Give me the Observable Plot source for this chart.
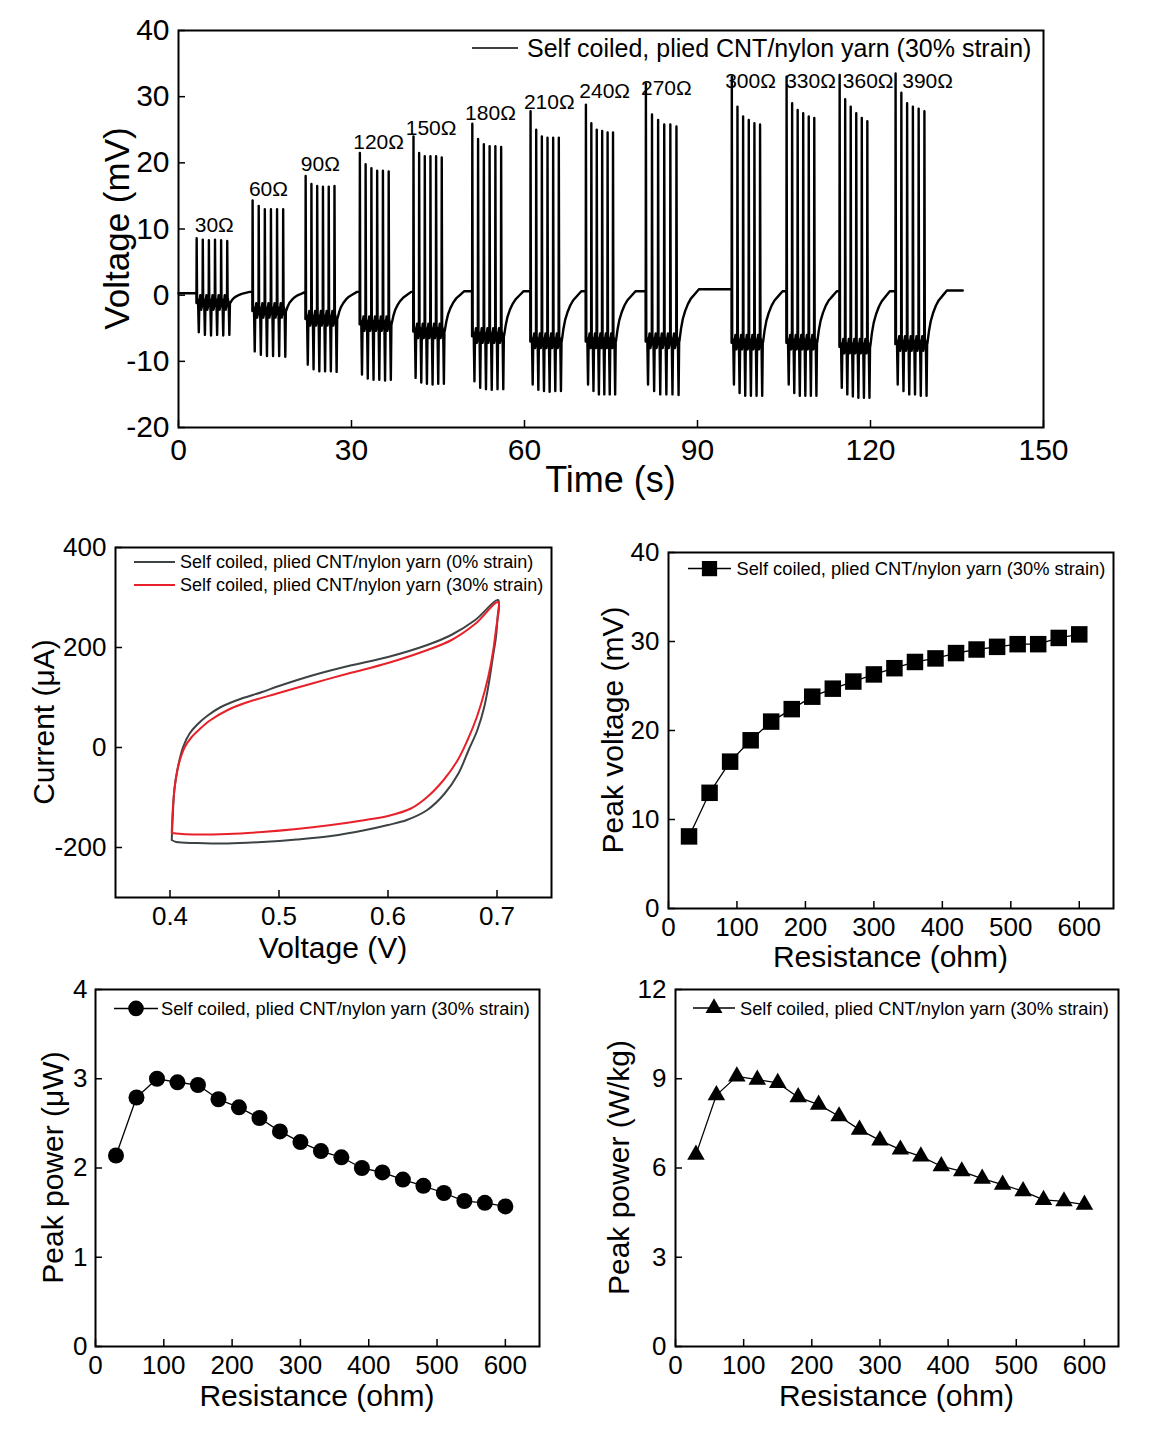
<!DOCTYPE html>
<html><head><meta charset="utf-8">
<script src="https://cdn.jsdelivr.net/npm/d3@7"></script>
<script src="https://cdn.jsdelivr.net/npm/@observablehq/plot@0.6"></script>
<style>
body{margin:0;background:#fff;}
#page{position:relative;width:1152px;height:1440px;background:#fff;overflow:hidden;}
#page svg{position:absolute;overflow:visible;}
</style></head><body><div id="page"></div>
<script>
// ---------- Panel A: voltage vs time ----------
const burstLabels = ["30Ω","60Ω","90Ω","120Ω","150Ω","180Ω","210Ω","240Ω","270Ω","300Ω","330Ω","360Ω","390Ω"];
const burstStart = [3.1, 12.8, 22.0, 31.4, 40.7, 50.9, 61.0, 70.6, 81.0, 95.9, 105.4, 114.6, 124.3];
const burstEnd   = [8.9, 18.6, 27.5, 36.9, 46.1, 56.4, 66.4, 75.8, 86.8, 101.3, 110.7, 119.9, 129.8];
const baselineBefore = [0.3, 0.5, 0.5, 0.5, 0.5, 0.6, 0.6, 0.6, 0.6, 0.9, 0.6, 0.6, 0.6];
const finalBaseline = 0.7;
const traceEnd = 136;
const burstOffset = [-1.2, -2.4, -3.6, -4.4, -5.5, -6.2, -7.0, -7.0, -7.0, -7.2, -7.2, -7.8, -7.4];
const burstPeaks = [
  [8.6, 8.4, 8.3, 8.4, 8.3, 8.2],
  [14.3, 13.5, 13.0, 13.0, 13.0, 13.0],
  [18.0, 16.8, 16.5, 16.4, 16.4, 16.5],
  [21.5, 19.8, 19.2, 18.8, 18.8, 18.7],
  [24.0, 21.5, 21.0, 21.0, 21.0, 20.8],
  [25.9, 23.6, 22.8, 22.5, 22.5, 22.4],
  [27.8, 25.0, 24.0, 23.8, 23.8, 23.8],
  [28.8, 26.0, 25.0, 24.8, 24.6, 24.6],
  [32.0, 27.3, 26.5, 25.8, 25.8, 25.5],
  [33.0, 28.5, 27.0, 26.5, 26.0, 25.8],
  [33.0, 29.0, 28.0, 27.5, 27.0, 26.8],
  [33.3, 29.6, 28.5, 27.5, 26.8, 26.3],
  [33.5, 30.6, 29.0, 28.5, 28.2, 27.8]
];
const burstTroughs = [
  [-5.6, -6.0, -6.1, -6.0, -6.1, -6.0],
  [-8.5, -9.0, -9.2, -9.2, -9.2, -9.3],
  [-10.5, -11.2, -11.5, -11.5, -11.5, -11.6],
  [-12.0, -12.6, -12.8, -12.8, -12.9, -12.8],
  [-12.5, -13.2, -13.4, -13.5, -13.4, -13.4],
  [-13.0, -14.0, -14.2, -14.3, -14.2, -14.2],
  [-13.5, -14.3, -14.5, -14.6, -14.5, -14.5],
  [-13.5, -14.5, -15.0, -15.0, -15.0, -15.0],
  [-13.5, -14.5, -15.0, -15.0, -15.0, -15.1],
  [-13.5, -14.8, -15.2, -15.2, -15.2, -15.2],
  [-13.5, -14.8, -15.2, -15.2, -15.2, -15.2],
  [-14.0, -15.0, -15.3, -15.5, -15.5, -15.5],
  [-13.5, -14.5, -15.0, -15.0, -15.2, -15.2]
];
const rippleUp = 1.2, rippleDown = -1.0;
// recovery after each burst, read from the 240 Ω tail (fraction of offset remaining)
const recoveryDt   = [0, 0.3, 0.6, 1.0, 1.5, 2.0, 2.7, 3.4];
const recoveryFrac = [1, 0.75, 0.57, 0.42, 0.28, 0.18, 0.09, 0];
// burst label anchors (time s, voltage mV)
const labelT = [6.2, 15.6, 24.6, 34.7, 43.8, 54.1, 64.3, 73.9, 84.6, 99.2, 109.6, 119.6, 129.9];
const labelV = [10.6, 16.0, 19.8, 23.1, 25.2, 27.5, 29.2, 30.8, 31.3, 32.3, 32.3, 32.3, 32.3];

const timeTicks = [0, 30, 60, 90, 120, 150];
const voltTicks = [-20, -10, 0, 10, 20, 30, 40];

// ---------- Panel B: CV ----------
const cvV0 = [0.4016,0.4025,0.404,0.407,0.412,0.418,0.4246,0.434,0.4467,0.4657,0.4846,0.5,0.532,0.5636,0.6,0.636,0.658,0.680,0.701,
              0.7005,0.699,0.6962,0.693,0.6883,0.682,0.674,0.6646,0.652,0.636,0.6172,0.6,0.5794,0.5478,0.5162,0.4846,0.453,0.4246,0.4057,0.4016];
const cvI0 = [-185,-139,-85,-42,1,28,45,63,81,98,111,123,145,163,181,205,225,255,295,
              260,220,181,135,81,35,-5,-52,-92,-125,-145,-155,-165,-177,-184,-189,-192,-191,-189,-185];
const cvV30 = [0.4016,0.4025,0.4047,0.4082,0.4136,0.4199,0.4278,0.4373,0.453,0.4688,0.4998,0.532,0.5636,0.6,0.6362,0.6583,0.6804,0.7009,
               0.699,0.6945,0.689,0.6815,0.673,0.664,0.651,0.636,0.621,0.6,0.5794,0.5478,0.5162,0.4846,0.453,0.4215,0.4057,0.4016];
const cvI30 = [-171,-125,-72,-32,1,21,38,55,75,89,109,129,148,169,195,215,248,291,
               235,168,115,61,15,-25,-65,-99,-122,-137,-145,-155,-163,-169,-173,-174,-172,-171];
const cvXTicks = [0.4, 0.5, 0.6, 0.7];
const cvYTicks = [-200, 0, 200, 400];

// ---------- Panels C, D, E ----------
const resistance = [30,60,90,120,150,180,210,240,270,300,330,360,390,420,450,480,510,540,570,600];
const peakVoltage = [8.1,13.0,16.5,18.9,21.0,22.4,23.8,24.7,25.5,26.3,27.0,27.7,28.1,28.7,29.1,29.4,29.7,29.7,30.4,30.8];
const peakPowerUW = [2.14,2.79,3.00,2.96,2.93,2.77,2.68,2.56,2.41,2.29,2.19,2.12,2.00,1.95,1.87,1.80,1.72,1.63,1.61,1.57];
const peakPowerWkg = [6.45,8.45,9.08,8.97,8.86,8.38,8.13,7.74,7.29,6.93,6.62,6.39,6.06,5.89,5.64,5.44,5.22,4.93,4.88,4.77];
const resTicks = [0,100,200,300,400,500,600];
const pvTicks = [0,10,20,30,40];
const puwTicks = [0,1,2,3,4];
const pwkgTicks = [0,3,6,9,12];

const legendText = "Self coiled, plied CNT/nylon yarn (30% strain)";
const legendText0 = "Self coiled, plied CNT/nylon yarn (0% strain)";

// ---------- helpers ----------
const FONT = '"Liberation Sans", Arial, Helvetica, sans-serif';
const page = document.getElementById("page");

function panel({left, top, width, height, mt, mr, mb, ml, xDomain, yDomain, xTicks, yTicks, marks, tickFont, xPad, yPad}) {
  const pw = width - ml - mr, ph = height - mt - mb;
  const svg = Plot.plot({
    width, height, marginTop: mt, marginRight: mr, marginBottom: mb, marginLeft: ml,
    x: {domain: xDomain}, y: {domain: yDomain},
    style: {fontFamily: FONT, fontSize: tickFont + "px", background: "transparent", color: "black", overflow: "visible"},
    marks: [
      ...marks,
      Plot.tickX(xTicks, {x: d => d, insetTop: ph - 7, stroke: "black", strokeWidth: 1.5}),
      Plot.tickY(yTicks, {y: d => d, insetRight: pw - 7, stroke: "black", strokeWidth: 1.5}),
      Plot.axisX(xTicks, {anchor: "bottom", tickSize: 0, tickPadding: xPad, tickFormat: d => String(d), fontSize: tickFont, label: null}),
      Plot.axisY(yTicks, {anchor: "left", tickSize: 0, tickPadding: yPad, tickFormat: d => String(d), fontSize: tickFont, label: null}),
      Plot.frame({stroke: "black", strokeWidth: 2})
    ]
  });
  svg.style.position = "absolute";
  svg.style.left = left + "px";
  svg.style.top = top + "px";
  page.appendChild(svg);
  return d3.select(svg);
}
function addText(sel, x, y, str, size, anchor = "start", rotate = false) {
  const t = sel.append("text").attr("x", x).attr("y", y).attr("font-size", size)
    .attr("font-family", FONT).attr("fill", "black").attr("text-anchor", anchor).text(str);
  if (rotate) t.attr("transform", `rotate(-90 ${x} ${y})`);
  return t;
}
function legendMarker(sel, x1, x2, y, symbol, r) {
  sel.append("line").attr("x1", x1).attr("x2", x2).attr("y1", y).attr("y2", y)
    .attr("stroke", "black").attr("stroke-width", 1.5);
  if (r > 0) sel.append("path").attr("d", d3.symbol(symbol, Math.PI * r * r)())
    .attr("transform", `translate(${(x1 + x2) / 2},${y})`).attr("fill", "black");
}

// ---------- build panel A trace ----------
const trace = [{t: 0, v: baselineBefore[0]}];
for (let k = 0; k < burstStart.length; k++) {
  const s = burstStart[k], e = burstEnd[k], off = burstOffset[k];
  const nextBase = k + 1 < burstStart.length ? baselineBefore[k + 1] : finalBaseline;
  const nextStart = k + 1 < burstStart.length ? burstStart[k + 1] : traceEnd;
  trace.push({t: s, v: baselineBefore[k]});
  const n = burstPeaks[k].length;
  const step = (e - s - 0.5) / (n - 1);
  for (let i = 0; i < n; i++) {
    const ti = s + i * step;
    trace.push({t: ti + 0.01, v: off});
    trace.push({t: ti + 0.05, v: burstPeaks[k][i]});
    trace.push({t: ti + 0.12, v: off + 0.8});
    trace.push({t: ti + 0.30, v: off});
    trace.push({t: ti + 0.42, v: burstTroughs[k][i]});
    trace.push({t: ti + 0.52, v: off});
    if (i < n - 1) {
      trace.push({t: ti + 0.68, v: off + rippleUp});
      trace.push({t: ti + 0.84, v: off + rippleDown});
    }
  }
  const t0 = s + (n - 1) * step + 0.55;
  for (let j = 0; j < recoveryDt.length; j++) {
    const tt = t0 + recoveryDt[j];
    if (tt >= nextStart - 0.05) break;
    trace.push({t: tt, v: nextBase + recoveryFrac[j] * (off - nextBase)});
  }
  trace.push({t: nextStart, v: nextBase});
}
const labels = burstLabels.map((l, i) => ({t: labelT[i], v: labelV[i], l}));

const A = panel({
  left: 0, top: 0, width: 1152, height: 500, mt: 30, mr: 109, mb: 73, ml: 178,
  xDomain: [0, 150], yDomain: [-20, 40], xTicks: timeTicks, yTicks: voltTicks,
  tickFont: 30, xPad: 11, yPad: 9,
  marks: [
    Plot.line(trace, {x: "t", y: "v", stroke: "black", strokeWidth: 2.4}),
    Plot.text(labels, {x: "t", y: "v", text: "l", fontSize: 21, fill: "black"})
  ]
});
legendMarker(A, 472, 518, 48, d3.symbolCircle, 0);
addText(A, 527, 57, legendText, 25);
addText(A, 610.5, 492, "Time (s)", 36, "middle");
addText(A, 129, 228.5, "Voltage (mV)", 35, "middle", true);

// ---------- panel B ----------
const cv0 = cvV0.map((v, i) => ({v, c: cvI0[i]}));
const cv30 = cvV30.map((v, i) => ({v, c: cvI30[i]}));
const B = panel({
  left: 0, top: 520, width: 576, height: 460, mt: 27, mr: 25, mb: 83, ml: 115,
  xDomain: [0.35, 0.75], yDomain: [-300, 400], xTicks: cvXTicks, yTicks: cvYTicks,
  tickFont: 26, xPad: 9, yPad: 9,
  marks: [
    Plot.line(cv0, {x: "v", y: "c", stroke: "#3d4245", strokeWidth: 2, curve: "catmull-rom"}),
    Plot.line(cv30, {x: "v", y: "c", stroke: "#e8202a", strokeWidth: 2, curve: "catmull-rom"})
  ]
});
B.append("line").attr("x1", 134).attr("x2", 175).attr("y1", 42).attr("y2", 42).attr("stroke", "#3d4245").attr("stroke-width", 2);
B.append("line").attr("x1", 134).attr("x2", 175).attr("y1", 65).attr("y2", 65).attr("stroke", "#e8202a").attr("stroke-width", 2);
addText(B, 180, 48, legendText0, 18);
addText(B, 180, 71, legendText, 18);
addText(B, 333, 438, "Voltage (V)", 30, "middle");
addText(B, 54, 202, "Current (μA)", 30, "middle", true);

// ---------- panel C ----------
const pv = resistance.map((r, i) => ({r, y: peakVoltage[i]}));
const C = panel({
  left: 576, top: 520, width: 576, height: 460, mt: 32, mr: 39, mb: 72, ml: 92,
  xDomain: [0, 650], yDomain: [0, 40], xTicks: resTicks, yTicks: pvTicks,
  tickFont: 26, xPad: 9, yPad: 9,
  marks: [
    Plot.line(pv, {x: "r", y: "y", stroke: "black", strokeWidth: 1.3}),
    Plot.dot(pv, {x: "r", y: "y", symbol: "square", r: 9.3, fill: "black"})
  ]
});
legendMarker(C, 112, 155, 48.6, d3.symbolSquare, 8.6);
addText(C, 160.5, 55, legendText, 18.3);
addText(C, 314.5, 447, "Resistance (ohm)", 30, "middle");
addText(C, 47, 210, "Peak voltage (mV)", 30, "middle", true);

// ---------- panel D ----------
const puw = resistance.map((r, i) => ({r, y: peakPowerUW[i]}));
const D = panel({
  left: 0, top: 960, width: 576, height: 480, mt: 29, mr: 37, mb: 94, ml: 95,
  xDomain: [0, 650], yDomain: [0, 4], xTicks: resTicks, yTicks: puwTicks,
  tickFont: 26, xPad: 9, yPad: 8,
  marks: [
    Plot.line(puw, {x: "r", y: "y", stroke: "black", strokeWidth: 1.3}),
    Plot.dot(puw, {x: "r", y: "y", symbol: "circle", r: 8, fill: "black"})
  ]
});
legendMarker(D, 114, 158, 48.4, d3.symbolCircle, 7.8);
addText(D, 161, 55, legendText, 18.3);
addText(D, 317, 446, "Resistance (ohm)", 30, "middle");
addText(D, 62.5, 207.5, "Peak power (μW)", 30, "middle", true);

// ---------- panel E ----------
const pwk = resistance.map((r, i) => ({r, y: peakPowerWkg[i]}));
const E = panel({
  left: 576, top: 960, width: 576, height: 480, mt: 29, mr: 34, mb: 94, ml: 99,
  xDomain: [0, 650], yDomain: [0, 12], xTicks: resTicks, yTicks: pwkgTicks,
  tickFont: 26, xPad: 9, yPad: 9,
  marks: [
    Plot.line(pwk, {x: "r", y: "y", stroke: "black", strokeWidth: 1.3}),
    Plot.dot(pwk, {x: "r", y: "y", symbol: "triangle", r: 6.5, fill: "black"})
  ]
});
legendMarker(E, 117, 159, 48, d3.symbolTriangle, 6.3);
addText(E, 164, 55, legendText, 18.3);
addText(E, 320.5, 446, "Resistance (ohm)", 30, "middle");
addText(E, 53, 207.5, "Peak power (W/kg)", 30, "middle", true);
</script>
</body></html>
